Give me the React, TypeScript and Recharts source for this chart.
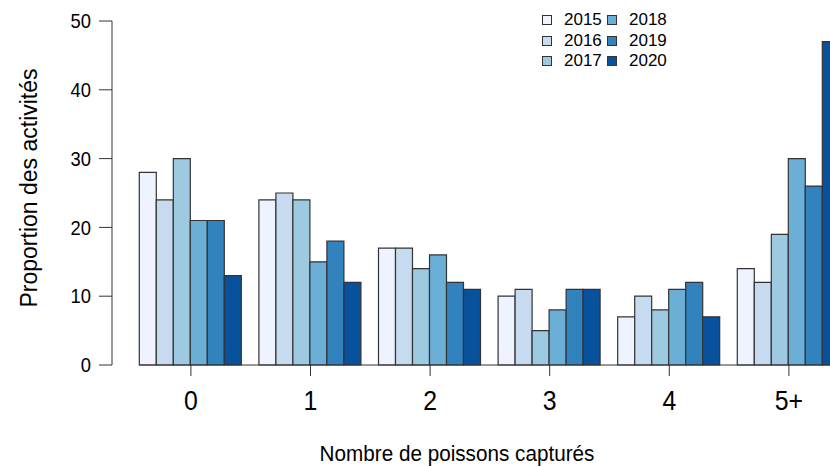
import { BarChart, Bar, XAxis, YAxis, ReferenceLine, Label } from 'recharts';

const categories = ['0', '1', '2', '3', '4', '5+'];
const years = ['2015', '2016', '2017', '2018', '2019', '2020'];
const colors = ['#EFF3FF', '#C6DBEF', '#9ECAE1', '#6BAED6', '#3182BD', '#08519C'];

const v2015 = [28, 24, 17, 10, 7, 14];
const v2016 = [24, 25, 17, 11, 10, 12];
const v2017 = [30, 24, 14, 5, 8, 19];
const v2018 = [21, 15, 16, 8, 11, 30];
const v2019 = [21, 18, 12, 11, 12, 26];
const v2020 = [13, 12, 11, 11, 7, 47];

const yTicks = [0, 10, 20, 30, 40, 50];

const series = [v2015, v2016, v2017, v2018, v2019, v2020];

const data = categories.map((cat, i) => {
    const row: Record<string, string | number> = { cat };
    years.forEach((y, j) => {
        row[y] = series[j][i];
    });
    return row;
});

const FONT = '"Liberation Sans", Arial, sans-serif';
// the original png looks squeezed horizontally a bit, so text is narrowed to match
const SQUEEZE = 0.92;

const squeeze = (x: number, y: number) =>
    `translate(${x} ${y}) scale(${SQUEEZE} 1) translate(${-x} ${-y})`;

const XTick = (props: any) => {
    const { x, y, payload } = props;
    return (
        <text
            x={x}
            y={y}
            dy="0.72em"
            textAnchor="middle"
            fontSize={27}
            fontFamily={FONT}
            fill="#000"
            transform={squeeze(x, y)}
        >
            {payload.value}
        </text>
    );
};

const YTick = (props: any) => {
    const { x, y, payload } = props;
    return (
        <text
            x={x}
            y={y}
            dy="0.36em"
            textAnchor="end"
            fontSize={20}
            fontFamily={FONT}
            fill="#000"
            transform={squeeze(x, y)}
        >
            {payload.value}
        </text>
    );
};

// legend laid out like R's ncol=2 legend box
const LegendBox = () => (
    <div
        style={{
            position: 'absolute',
            left: 542,
            top: 10,
            display: 'grid',
            gridTemplateColumns: '65px 60px',
            gridAutoFlow: 'column',
            gridTemplateRows: 'repeat(3, 20.5px)',
            fontFamily: FONT,
            fontSize: 17,
            color: '#000',
        }}
    >
        {years.map((y, i) => (
            <div key={y} style={{ display: 'flex', alignItems: 'center' }}>
                <span
                    style={{
                        display: 'inline-block',
                        width: 8,
                        height: 8,
                        background: colors[i],
                        border: '1.2px solid #333',
                        marginRight: 12,
                    }}
                />
                <span>{y}</span>
            </div>
        ))}
    </div>
);

const App = () => {
    return (
        <div
            style={{
                position: 'absolute',
                left: 0,
                top: 0,
                width: 830,
                height: 466,
                overflow: 'hidden',
                background: '#fff',
            }}
        >
            <BarChart
                width={850}
                height={466}
                data={data}
                margin={{ top: 21, right: 1.3, bottom: 0, left: 52 }}
                barGap={0}
                barCategoryGap={8.2}
            >
                <XAxis
                    dataKey="cat"
                    height={101}
                    axisLine={false}
                    tickSize={11}
                    tickMargin={15}
                    tickLine={{ stroke: '#333', strokeWidth: 1 }}
                    tick={<XTick />}
                    padding={{ left: 19.1, right: 0 }}
                    interval={0}
                >
                    <Label
                        content={() => (
                            <text
                                x={457}
                                y={461}
                                textAnchor="middle"
                                fontSize={22.5}
                                fontFamily={FONT}
                                fill="#000"
                                transform={squeeze(457, 461)}
                            >
                                Nombre de poissons capturés
                            </text>
                        )}
                    />
                </XAxis>
                <YAxis
                    width={60}
                    domain={[0, 50]}
                    ticks={yTicks}
                    interval={0}
                    tickSize={13}
                    tickMargin={8}
                    axisLine={{ stroke: '#333', strokeWidth: 1 }}
                    tickLine={{ stroke: '#333', strokeWidth: 1 }}
                    tick={<YTick />}
                >
                    <Label
                        content={() => (
                            <text
                                x={37}
                                y={188}
                                transform="rotate(-90 37 188)"
                                textAnchor="middle"
                                fontSize={23}
                                fontFamily={FONT}
                                fill="#000"
                            >
                                Proportion des activités
                            </text>
                        )}
                    />
                </YAxis>
                {years.map((y, i) => (
                    <Bar
                        key={y}
                        dataKey={y}
                        fill={colors[i]}
                        stroke="#333"
                        strokeWidth={1.2}
                        isAnimationActive={false}
                    />
                ))}
                <ReferenceLine
                    y={0}
                    stroke="#333"
                    strokeWidth={1}
                    strokeDasharray="0 27.3 2000"
                />
            </BarChart>
            <LegendBox />
        </div>
    );
};

export default App;
